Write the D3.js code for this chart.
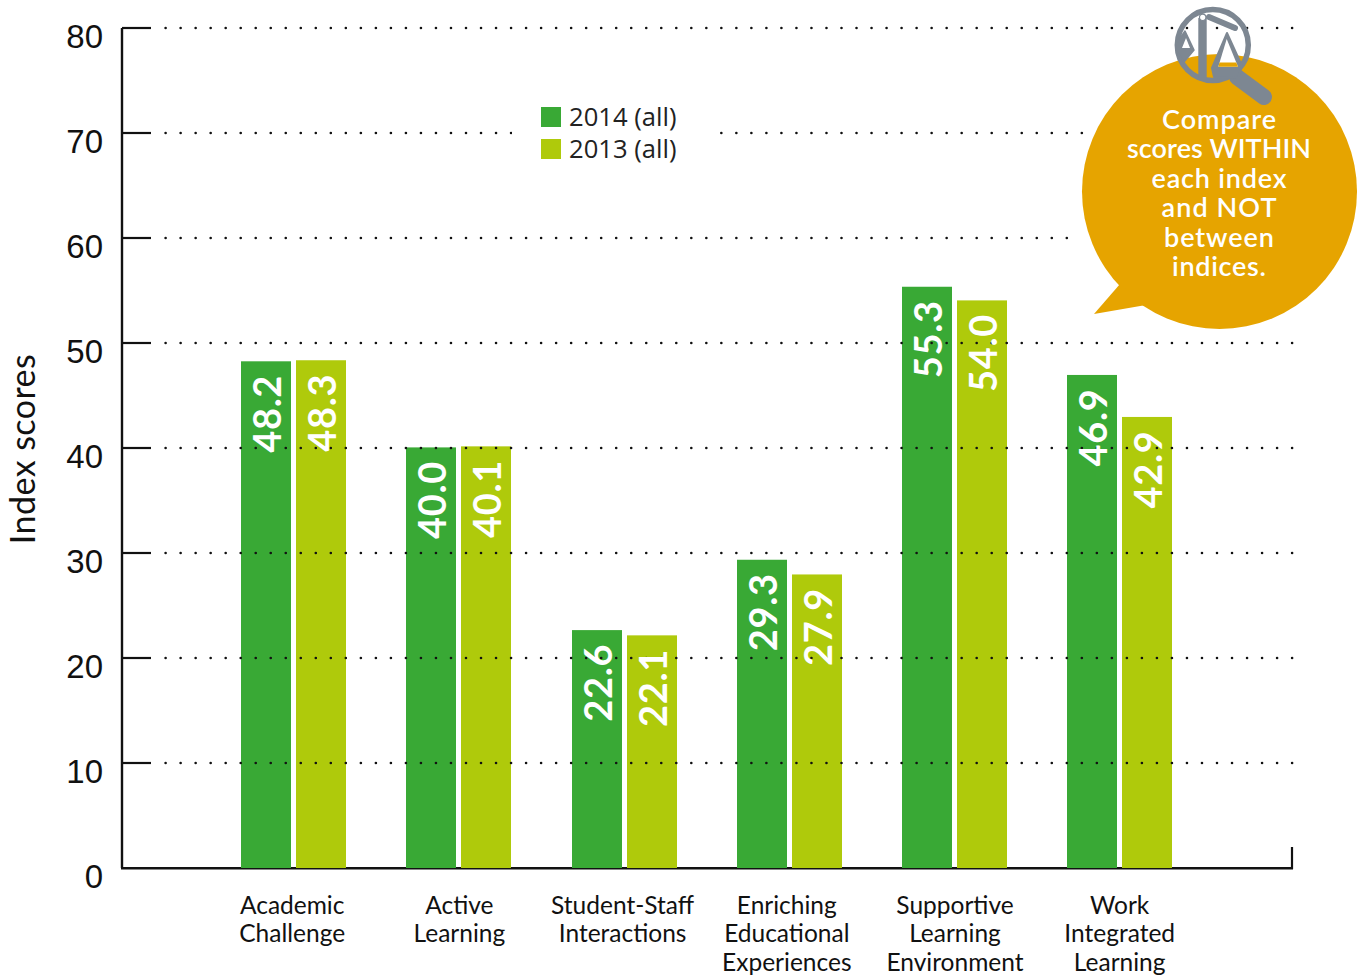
<!DOCTYPE html>
<html><head><meta charset="utf-8">
<script src="https://cdn.jsdelivr.net/npm/d3@7"></script>
<style>html,body{margin:0;padding:0;background:#fff}svg{display:block}</style>
</head><body><svg id="c" width="1362" height="978"></svg>
<script>
const categories = [["Academic","Challenge"],["Active","Learning"],["Student-Staff","Interactions"],["Enriching","Educational","Experiences"],["Supportive","Learning","Environment"],["Work","Integrated","Learning"]];
const seriesNames = ["2014 (all)","2013 (all)"];
const values2014 = [48.2,40.0,22.6,29.3,55.3,46.9];
const values2013 = [48.3,40.1,22.1,27.9,54.0,42.9];
const yTicks = [0,10,20,30,40,50,60,70,80];
const calloutLines = ["Compare","scores WITHIN","each index","and NOT","between","indices."];
const yTitle = "Index scores";
const colors = ["#39a935","#afca0b"];

const svg = d3.select("#c");
const y = d3.scaleLinear().domain([0,80]).range([868,28]);
const x0 = d3.scaleBand().domain(d3.range(categories.length)).range([241.2,1172.2]).paddingInner(60.2/165.2).paddingOuter(0);
const x1 = d3.scaleBand().domain([0,1]).range([0,x0.bandwidth()]).paddingInner(5/55).paddingOuter(0);
const barTop = d => y(d) - 0.6;

// axes (behind the bars)
const axisY = svg.append("g").attr("transform","translate(122,0)")
  .call(d3.axisLeft(y).tickValues(yTicks).tickSize(-29).tickPadding(19).tickSizeOuter(0).offset(0));
axisY.select(".domain").attr("stroke","#111").attr("stroke-width",2.4);
axisY.selectAll(".tick line").attr("stroke","#111").attr("stroke-width",2.2);
axisY.selectAll("text").attr("font-family","'Liberation Sans',Arial,sans-serif").attr("font-size",33).attr("fill","#111").attr("dy","0.61em");
axisY.select(".tick line").attr("x2",0);
svg.append("line").attr("x1",121).attr("x2",1293).attr("y1",y(0)+0.3).attr("y2",y(0)+0.3).attr("stroke","#111").attr("stroke-width",2.4);
svg.append("line").attr("x1",1292).attr("x2",1292).attr("y1",y(0)+1).attr("y2",847).attr("stroke","#111").attr("stroke-width",2.2);

svg.append("text").attr("transform","translate(35,449) rotate(-90)").attr("text-anchor","middle")
  .attr("font-family","Lato,sans-serif").attr("font-size",34).attr("letter-spacing",0.45).attr("fill","#111").text(yTitle);

// bars
const allSeries = [values2014,values2013];
allSeries.forEach((vals,s)=>{
  svg.append("g").selectAll("rect").data(vals).join("rect")
    .attr("x",(d,i)=>Math.round(x0(i))+Math.round(x1(s))).attr("width",Math.round(x1.bandwidth()))
    .attr("y",barTop).attr("height",d=>y(0)-barTop(d)).attr("fill",colors[s]);
});

// dotted grid, above the bars
const gridG = svg.append("g");
const gridEnd = {60:1070,70:1088};
yTicks.filter(d=>d>0).forEach(t=>{
  gridG.append("line").attr("x1",165.6).attr("x2",gridEnd[t]||1296).attr("y1",y(t)).attr("y2",y(t))
    .attr("stroke","#111").attr("stroke-width",2.6).attr("stroke-linecap","round").attr("stroke-dasharray","0.01 15.01");
});
// legend knock-out
svg.append("rect").attr("x",512).attr("y",100).attr("width",206).attr("height",70).attr("fill","#fff");

// value labels, above the grid
allSeries.forEach((vals,s)=>{
  svg.append("g").selectAll("text").data(vals).join("text")
    .attr("transform",(d,i)=>`translate(${x0(i)+x1(s)+x1.bandwidth()/2+15},${y(d)+13}) rotate(-90)`)
    .attr("text-anchor","end").attr("font-family","Lato,sans-serif").attr("font-weight",700)
    .attr("font-size",38).attr("letter-spacing",0.7).attr("fill","#fff").text(d=>d.toFixed(1));
});

// category labels
const labelNudge = [-1.5,0.5,-1.5,-2.5,0.5,0];
const labG = svg.selectAll("g.lab").data(categories).join("g").attr("class","lab");
labG.each(function(lines,i){
  const g=d3.select(this);
  lines.forEach((l,k)=>g.append("text").attr("x",x0(i)+x0.bandwidth()/2+labelNudge[i]).attr("y",914+k*28.4)
    .attr("text-anchor","middle").attr("font-family","Lato,sans-serif").attr("font-size",24.5).attr("fill","#111").text(l));
});

// legend
seriesNames.forEach((n,i)=>{
  svg.append("rect").attr("x",541).attr("y",107+i*32).attr("width",20).attr("height",20).attr("fill",colors[i]);
  svg.append("text").attr("x",569).attr("y",126+i*32).attr("font-family","'Open Sans',sans-serif").attr("font-size",25.6).attr("fill","#222").text(n);
});

// callout
svg.append("circle").attr("cx",1219.5).attr("cy",191.5).attr("r",137.5).attr("fill","#e6a400");
svg.append("path").attr("d","M1120 284L1094 314L1146 305Z").attr("fill","#e6a400");
const calloutWidths = [114,184,135,115,110,94];
calloutLines.forEach((l,i)=>svg.append("text").attr("x",1219).attr("y",129+i*29.4).attr("text-anchor","middle")
  .attr("textLength",calloutWidths[i]).attr("lengthAdjust","spacing")
  .attr("font-family","Lato,sans-serif").attr("font-weight",600).attr("font-size",27).attr("fill","#fff").text(l));

// magnifier-and-scales icon
const grey = "#7d8792";
const ic = svg.append("g");
ic.append("circle").attr("cx",1212.8).attr("cy",45).attr("r",35.5).attr("fill","none").attr("stroke",grey).attr("stroke-width",5.5);
ic.append("line").attr("x1",1237).attr("y1",77).attr("x2",1264).attr("y2",97).attr("stroke",grey).attr("stroke-width",16).attr("stroke-linecap","round");
ic.append("rect").attr("x",1198.3).attr("y",18).attr("width",8.4).attr("height",60).attr("fill",grey);
ic.append("line").attr("x1",1209).attr("y1",17).attr("x2",1235).attr("y2",28).attr("stroke",grey).attr("stroke-width",6).attr("stroke-linecap","round");
ic.append("circle").attr("cx",1202.7).attr("cy",17.3).attr("r",3.2).attr("fill","#fff").attr("stroke",grey).attr("stroke-width",1.2);
ic.append("path").attr("d","M1227 33L1242 66L1238 78L1214 77L1212 68Z").attr("fill",grey).attr("stroke",grey).attr("stroke-width",2).attr("stroke-linejoin","round");
ic.append("path").attr("d","M1226.7 39L1218.3 66.7L1238 66.7Z").attr("fill","#fff");
ic.append("path").attr("d","M1219.5 62.5L1218.3 66.7L1238 66.7L1236.2 62.5Z").attr("fill","#e6a400");
ic.append("path").attr("d","M1185 31L1194 50L1184 62L1176 50L1176 44Z").attr("fill",grey).attr("stroke",grey).attr("stroke-width",1.5).attr("stroke-linejoin","round");
ic.append("path").attr("d","M1186 38L1182 48L1190 48Z").attr("fill","#fff");
</script></body></html>
